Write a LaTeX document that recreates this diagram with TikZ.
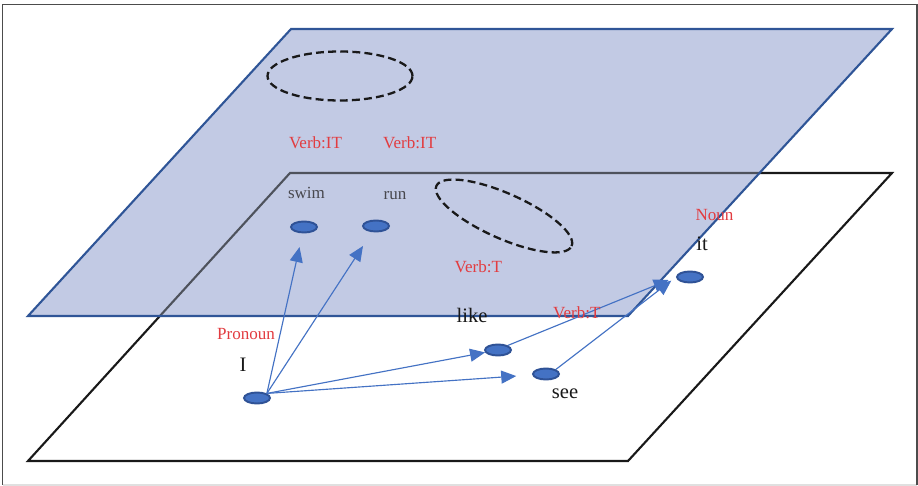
\documentclass[tikz,border=0pt]{standalone}
\usepackage{fontspec}
\setmainfont{Liberation Serif}
\usepackage{xcolor}
\definecolor{plBlue}{RGB}{194,202,228}
\definecolor{plEdge}{RGB}{47,85,151}
\definecolor{dotBlue}{RGB}{68,114,196}
\definecolor{dotEdge}{RGB}{47,82,150}
\definecolor{lbRed}{RGB}{226,60,64}
\definecolor{lbGray}{RGB}{72,72,78}
\definecolor{hidEdge}{RGB}{78,82,92}
\usepackage{tikz}
\usetikzlibrary{positioning,arrows.meta,shapes.geometric}

\begin{document}
\begin{tikzpicture}[x=0.02cm,y=0.02cm,
  dot/.style={ellipse,draw=dotEdge,fill=dotBlue,line width=1.1pt,minimum width=0.52cm,minimum height=0.22cm,inner sep=0pt},
  grp/.style={ellipse,draw=black!90,line width=1.3pt,dash pattern=on 4.5pt off 2.4pt,inner sep=0pt},
  word/.style={font=\fontsize{11.7}{14}\selectfont,text=black!90,inner sep=0pt},
  sub/.style={font=\fontsize{9.7}{11.6}\selectfont,text=lbGray,inner sep=0pt},
  cls/.style={font=\fontsize{9.7}{11.6}\selectfont,text=lbRed,inner sep=0pt},
  a/.style={-{Triangle[length=0.3cm,width=0.26cm]},dotBlue,line width=0.65pt}]
  \useasboundingbox (0,0) rectangle (918,486);
  % page frame
  \draw[black!12,line width=1.1pt] (2.5,1) -- (917,1);
  \draw[black!70,line width=1.1pt] (2.5,1) |- (917,481.5) -- (917,1);
  % lower plane
  \draw[black!90,fill=white,line width=1.2pt] (28,25) -- (628,25) -- (892,313) -- (290,313) -- cycle;
  % upper plane, lower edges seen through it
  \fill[plBlue] (28,170) -- (628,170) -- (892,457) -- (291,457) -- cycle;
  \begin{scope}
    \clip (28,170) -- (628,170) -- (892,457) -- (291,457) -- cycle;
    \draw[hidEdge,line width=1.2pt] (28,25) -- (628,25) -- (892,313) -- (290,313) -- cycle;
  \end{scope}
  \draw[plEdge,line width=1.2pt] (28,170) -- (628,170) -- (892,457) -- (291,457) -- cycle;
  % groups
  \node[grp,minimum width=2.9cm,minimum height=0.98cm] (topgroup) at (340,410) {};
  \node[grp,minimum width=2.96cm,minimum height=0.9cm,rotate=-24] (tgroup) at (504,270) {};
  % words
  \node[dot] (swim) at (304,259) {};
  \node[dot] (run) at (376,260) {};
  \node[dot] (I) at (257,88) {};
  \node[dot] (like) at (498,136) {};
  \node[dot] (see) at (546,112) {};
  \node[dot] (it) at (690,209) {};
  \node[sub,above=4.4mm of swim,xshift=0.5mm] (swimlab) {swim};
  \node[sub,above=4mm of run,xshift=3.8mm] (runlab) {run};
  \node[cls,above=7.5mm of swimlab,xshift=1.8mm] (vit1) {Verb:IT};
  \node[cls,right=8.1mm of vit1] (vit2) {Verb:IT};
  \node[cls,below=4.5mm of tgroup.south,xshift=-3.2mm] (vt1) {Verb:T};
  \node[word,above=3.9mm of I,xshift=-2.8mm] (Ilab) {I};
  \node[cls,above=3.5mm of Ilab,xshift=0.6mm] (pron) {Pronoun};
  \node[word,above=4.1mm of like,xshift=-5.2mm] (likelab) {like};
  \node[word,below=1.6mm of see,xshift=3.8mm] (seelab) {see};
  \node[word,above=3.9mm of it,xshift=2.4mm] (itlab) {it};
  \node[cls,above=3.2mm of itlab,xshift=2.5mm] (noun) {Noun};
  % links
  \draw[a,shorten >=2.8mm] (I.north east) -- (swim);
  \draw[a,shorten >=3.3mm] (I.north east) -- (run);
  \draw[a] (I.north east) -- (like);
  \draw[a,shorten >=3.2mm] (I.north east) -- (see);
  \draw[a,shorten >=1.6mm] (like.north east) -- (it.west) node[cls,pos=0.41,yshift=1mm] (vt2) {Verb:T};
  \draw[a,shorten >=1.2mm] (see.north east) -- (it.west);
\end{tikzpicture}
\end{document}
